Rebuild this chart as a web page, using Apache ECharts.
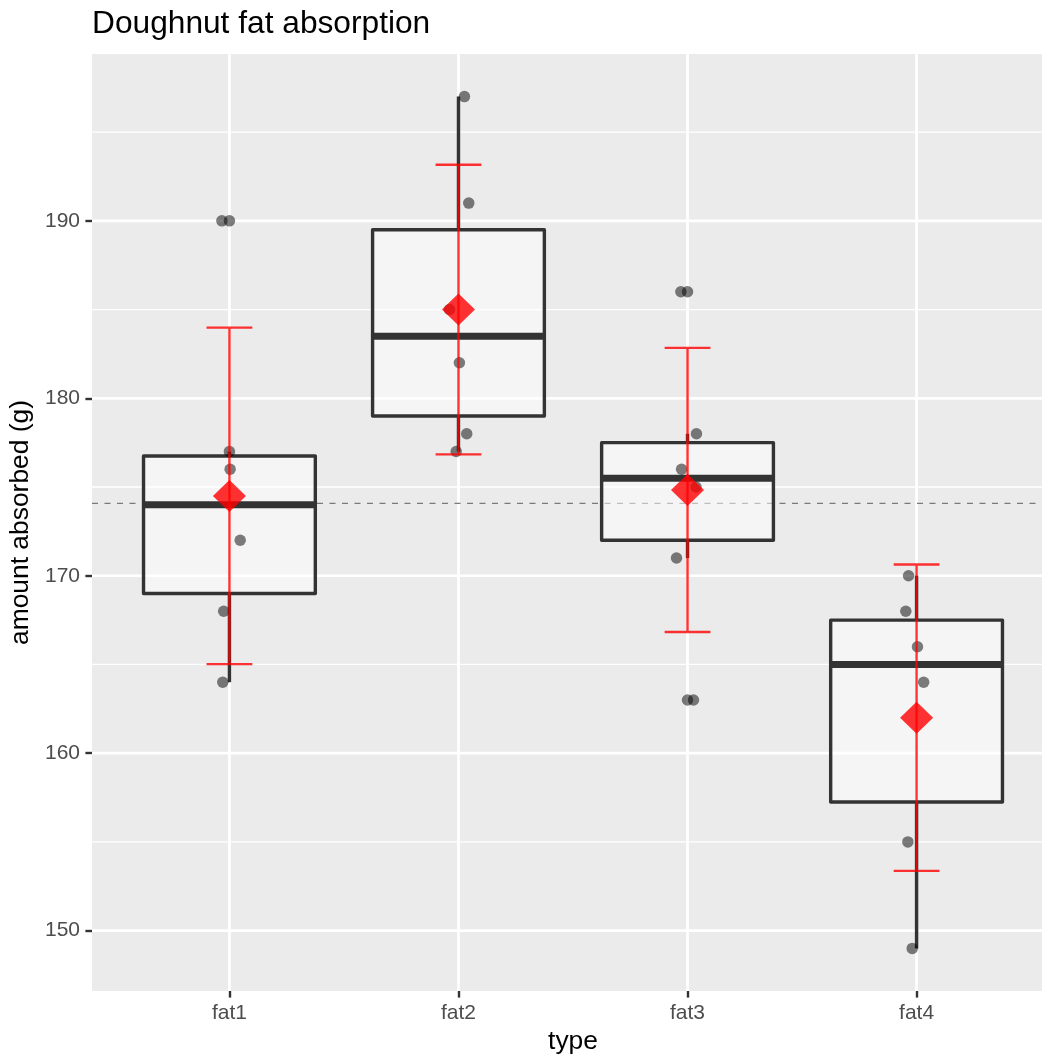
<!DOCTYPE html>
<html>
<head>
<meta charset="utf-8">
<title>Doughnut fat absorption</title>
<script src="https://cdn.jsdelivr.net/npm/echarts@6/dist/echarts.min.js"></script>
<style>
  html, body { margin: 0; padding: 0; background: #fff; }
  #chart { width: 1042px; height: 1055px; }
</style>
</head>
<body>
<div id="chart"></div>
<script>
// raw observations per fat type
var categories = ['fat1', 'fat2', 'fat3', 'fat4'];
var fat1 = [164, 168, 172, 176, 177, 190];
var fat2 = [177, 178, 182, 185, 191, 197];
var fat3 = [163, 171, 175, 176, 178, 186];
var fat4 = [149, 155, 164, 166, 168, 170];
// horizontal jitter of each point (category units)
var jitter1 = [-0.029, -0.025, 0.047, 0.003, 0, -0.033];
var jitter2 = [-0.01, 0.036, 0.004, -0.039, 0.045, 0.026];
var jitter3 = [0.026, -0.048, 0.037, -0.026, 0.039, -0.029];
var jitter4 = [-0.019, -0.038, 0.031, 0.004, -0.047, -0.035];

// box statistics: lower whisker, Q1, median, Q3, upper whisker
var whiskerLow = [164, 177, 171, 149];
var q1 = [169, 179, 172, 157.25];
var median = [174, 183.5, 175.5, 165];
var q3 = [176.75, 189.5, 177.5, 167.5];
var whiskerHigh = [177, 197, 178, 170];
var outliers = [[1, 190], [3, 186], [3, 163]];

// mean and 95% confidence interval
var means = [174.5, 185, 174.83, 162];
var ciLow = [165.02, 176.84, 166.83, 153.37];
var ciHigh = [183.98, 193.16, 182.84, 170.63];
var grandMean = 174.08;

var yBreaks = [150, 160, 170, 180, 190];
var yMinor = [155, 165, 175, 185, 195];
var xBreaks = [1, 2, 3, 4];

var values = [fat1, fat2, fat3, fat4];
var jitters = [jitter1, jitter2, jitter3, jitter4];
var points = [];
values.forEach(function (vals, i) {
	vals.forEach(function (v, j) {
		points.push([i + 1 + jitters[i][j], v]);
	});
});

var boxData = categories.map(function (c, i) {
	return [i + 1, whiskerLow[i], q1[i], median[i], q3[i], whiskerHigh[i]];
});
var errData = categories.map(function (c, i) {
	return [i + 1, ciLow[i], ciHigh[i]];
});
var meanData = categories.map(function (c, i) {
	return [i + 1, means[i]];
});

var FONT = "'Liberation Sans', Arial, Helvetica, sans-serif";

function hLine(width) {
	return function (params, api) {
		var cs = params.coordSys;
		var y = api.coord([1, api.value(1)])[1];
		return {
			type: 'line',
			shape: { x1: cs.x, y1: y, x2: cs.x + cs.width, y2: y },
			style: { stroke: '#ffffff', lineWidth: width }
		};
	};
}

function vLine(params, api) {
	var cs = params.coordSys;
	var x = api.coord([api.value(0), 170])[0];
	return {
		type: 'line',
		shape: { x1: x, y1: cs.y, x2: x, y2: cs.y + cs.height },
		style: { stroke: '#ffffff', lineWidth: 2.7 }
	};
}

function renderBox(params, api) {
	var cx = api.coord([api.value(0), 0])[0];
	var lo = api.coord([api.value(0), api.value(1)])[1];
	var b1 = api.coord([api.value(0), api.value(2)])[1];
	var md = api.coord([api.value(0), api.value(3)])[1];
	var b3 = api.coord([api.value(0), api.value(4)])[1];
	var hi = api.coord([api.value(0), api.value(5)])[1];
	var half = api.size([0.75, 0])[0] / 2;
	var dark = '#333333';
	return {
		type: 'group',
		children: [
			{ type: 'line', shape: { x1: cx, y1: lo, x2: cx, y2: b1 }, style: { stroke: dark, lineWidth: 3.4 } },
			{ type: 'line', shape: { x1: cx, y1: b3, x2: cx, y2: hi }, style: { stroke: dark, lineWidth: 3.4 } },
			{
				type: 'rect',
				shape: { x: cx - half, y: b3, width: half * 2, height: b1 - b3 },
				style: { fill: 'rgba(255,255,255,0.5)', stroke: dark, lineWidth: 3.4, lineJoin: 'round' }
			},
			{ type: 'line', shape: { x1: cx - half, y1: md, x2: cx + half, y2: md }, style: { stroke: dark, lineWidth: 7 } }
		]
	};
}

function renderErr(params, api) {
	var cx = api.coord([api.value(0), 0])[0];
	var lo = api.coord([api.value(0), api.value(1)])[1];
	var hi = api.coord([api.value(0), api.value(2)])[1];
	var half = api.size([0.2, 0])[0] / 2;
	var d = 'M' + (cx - half) + ',' + hi + 'L' + (cx + half) + ',' + hi +
		'M' + cx + ',' + hi + 'L' + cx + ',' + lo +
		'M' + (cx - half) + ',' + lo + 'L' + (cx + half) + ',' + lo;
	return {
		type: 'path',
		shape: { pathData: d },
		style: { fill: null, stroke: 'rgba(255,0,0,0.8)', lineWidth: 2.4 }
	};
}

function renderMeanLine(params, api) {
	var cs = params.coordSys;
	var y = api.coord([1, api.value(1)])[1];
	return {
		type: 'line',
		shape: { x1: cs.x, y1: y, x2: cs.x + cs.width, y2: y },
		style: { stroke: '#7a7a7a', lineWidth: 1.4, lineDash: [6, 6.5] }
	};
}

var chart = echarts.init(document.getElementById('chart'), null, { renderer: 'canvas' });
chart.setOption({
	animation: false,
	backgroundColor: '#ffffff',
	title: {
		text: 'Doughnut fat absorption',
		left: 87,
		top: 3,
		textStyle: { fontFamily: FONT, fontSize: 31.7, fontWeight: 'normal', color: '#000000' }
	},
	grid: {
		left: 92,
		top: 54,
		width: 962,
		height: 937,
		outerBoundsMode: 'none',
		containLabel: false,
		show: true,
		backgroundColor: '#EBEBEB',
		borderWidth: 0
	},
	xAxis: {
		type: 'value',
		min: 0.4,
		max: 4.6,
		name: 'type',
		nameLocation: 'middle',
		nameGap: 37,
		nameTextStyle: { fontFamily: FONT, fontSize: 26.4, color: '#000000' },
		axisLine: { show: false },
		splitLine: { show: false },
		axisTick: {
			show: true,
			customValues: xBreaks,
			length: 6.6,
			lineStyle: { color: '#333333', width: 2.4 }
		},
		axisLabel: {
			customValues: xBreaks,
			margin: 12,
			fontFamily: FONT,
			fontSize: 21,
			color: '#4D4D4D',
			formatter: function (v) { return categories[Math.round(v) - 1] || ''; }
		}
	},
	yAxis: {
		type: 'value',
		min: 146.6,
		max: 199.4,
		name: 'amount absorbed (g)',
		nameLocation: 'middle',
		nameGap: 56,
		nameRotate: 90,
		nameTextStyle: { fontFamily: FONT, fontSize: 26.4, color: '#000000' },
		axisLine: { show: false },
		splitLine: { show: false },
		axisTick: {
			show: true,
			customValues: yBreaks,
			length: 6.6,
			lineStyle: { color: '#333333', width: 2.4 }
		},
		axisLabel: {
			customValues: yBreaks,
			margin: 12,
			fontFamily: FONT,
			fontSize: 21,
			color: '#4D4D4D'
		}
	},
	series: [
		{
			type: 'custom', z: 1, silent: true,
			renderItem: hLine(1.3),
			data: yMinor.map(function (v) { return [1, v]; })
		},
		{
			type: 'custom', z: 1, silent: true,
			renderItem: hLine(2.7),
			data: yBreaks.map(function (v) { return [1, v]; })
		},
		{
			type: 'custom', z: 1, silent: true,
			renderItem: vLine,
			data: xBreaks.map(function (v) { return [v, 170]; })
		},
		{
			type: 'custom', z: 2, silent: true,
			renderItem: renderMeanLine,
			data: [[1, grandMean]]
		},
		{
			type: 'custom', z: 3, silent: true,
			renderItem: renderBox,
			data: boxData
		},
		{
			type: 'scatter', z: 4, silent: true,
			symbolSize: 11.5,
			itemStyle: { color: 'rgba(0,0,0,0.5)', opacity: 1 },
			data: outliers
		},
		{
			type: 'scatter', z: 5, silent: true,
			symbolSize: 11.5,
			itemStyle: { color: 'rgba(0,0,0,0.5)', opacity: 1 },
			data: points
		},
		{
			type: 'custom', z: 6, silent: true,
			renderItem: renderErr,
			data: errData
		},
		{
			type: 'scatter', z: 7, silent: true,
			symbol: 'diamond',
			symbolSize: [33, 32],
			itemStyle: { color: 'rgba(255,0,0,0.8)', opacity: 1 },
			data: meanData
		}
	]
});
</script>
</body>
</html>
